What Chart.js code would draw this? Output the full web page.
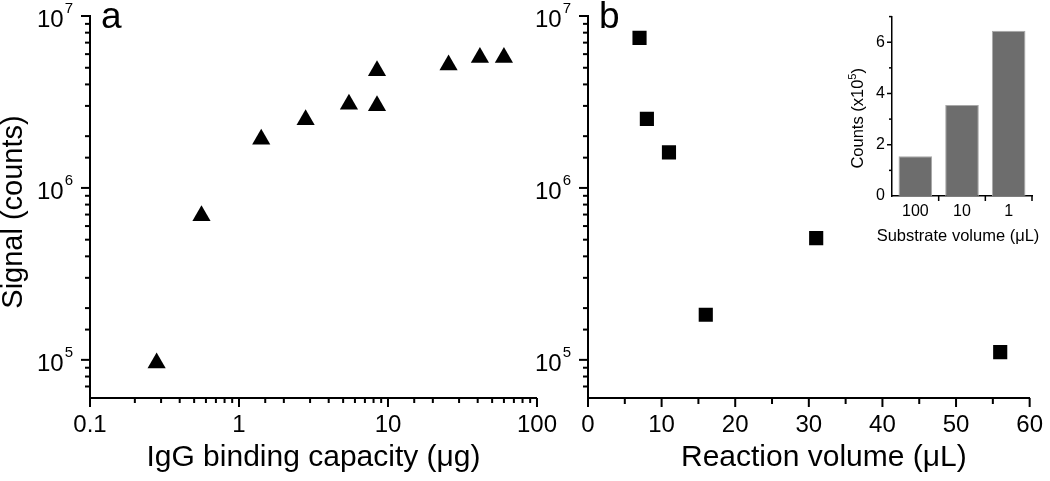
<!DOCTYPE html>
<html>
<head>
<meta charset="utf-8">
<script src="https://cdn.jsdelivr.net/npm/chart.js@4"></script>
<style>
  body { margin: 0; background: #fff; }
  #wrap { position: relative; width: 1050px; height: 481px; overflow: hidden; }
  #wrap canvas { position: absolute; top: 0; }
</style>
</head>
<body>
<div id="wrap">
  <canvas id="chartA" width="570" height="481" style="left:0"></canvas>
  <canvas id="chartB" width="556" height="481" style="left:500px"></canvas>
  <canvas id="chartC" width="210" height="250" style="left:840px"></canvas>
</div>
<script>
// panel a: signal vs IgG binding capacity
const capacity = [0.28, 0.56, 1.41, 2.8, 5.47, 8.44, 8.44, 25.5, 41.4, 60];
const signalA = [9.6e4, 6.9e5, 1.92e6, 2.49e6, 3.07e6, 3.01e6, 4.81e6, 5.19e6, 5.73e6, 5.73e6];
// panel b: signal vs reaction volume
const reactionVolume = [7, 8, 11, 16, 31, 56];
const signalB = [7.46e6, 2.52e6, 1.61e6, 1.83e5, 5.11e5, 1.11e5];
// inset: counts (x10^5) vs substrate volume
const substrateLabels = ['100', '10', '1'];
const substrateCounts = [1.55, 3.55, 6.45];

const FONT = '"Liberation Sans", Arial, sans-serif';
Chart.defaults.font.family = FONT;
Chart.defaults.color = '#000';

const isDecade = v => Math.abs(Math.log10(v) - Math.round(Math.log10(v))) < 1e-9;

// text made of parts, some of them superscript: [[text, size, raise], ...]
function drawParts(c, parts, x, y) {
  let w = 0;
  parts.forEach(p => { c.font = p[1] + 'px ' + FONT; w += c.measureText(p[0]).width; });
  let cx = x - w / 2;
  parts.forEach(p => {
    c.font = p[1] + 'px ' + FONT;
    c.fillText(p[0], cx, y - (p[2] || 0));
    cx += c.measureText(p[0]).width;
  });
}

// tick marks (major / minor), 10^n labels, axis titles, panel letter
function axisMarks(cfg) {
  return {
    id: 'axisMarks',
    afterDraw(chart) {
      const c = chart.ctx, area = chart.chartArea;
      const xs = chart.scales.x, ys = chart.scales.y;
      const lw = cfg.lineWidth;
      c.save();
      c.fillStyle = '#000';
      // x axis ticks (pointing down)
      if (cfg.x.boundaries) {
        const n = xs.ticks.length;
        for (let i = 1; i <= n; i++) {
          const px = xs.left + i * xs.width / n;
          c.fillRect(px - lw / 2, area.bottom, lw, cfg.x.len);
        }
      } else {
        xs.ticks.forEach(t => {
          const px = xs.getPixelForValue(t.value);
          const len = cfg.x.major(t.value) ? cfg.x.majorLen : cfg.x.minorLen;
          c.fillRect(px - lw / 2, area.bottom, lw, len);
        });
      }
      // y axis ticks (pointing left)
      ys.ticks.forEach(t => {
        if (t.value <= ys.min) return;
        const py = ys.getPixelForValue(t.value);
        const len = cfg.y.major(t.value) ? cfg.y.majorLen : cfg.y.minorLen;
        c.fillRect(area.left - len, py - lw / 2, len, lw);
      });

      c.textAlign = 'left';
      c.textBaseline = 'alphabetic';
      // 10^n labels
      if (cfg.decadeLabels) {
        ys.ticks.forEach(t => {
          if (!isDecade(t.value) || t.value < ys.min) return;
          const py = ys.getPixelForValue(t.value);
          const ex = String(Math.round(Math.log10(t.value)));
          c.font = '24px ' + FONT;
          const w10 = c.measureText('10').width;
          c.font = '15px ' + FONT;
          const we = c.measureText(ex).width;
          const x0 = area.left - 18 - we - w10;
          c.font = '24px ' + FONT;
          c.fillText('10', x0, py + 11);
          c.font = '15px ' + FONT;
          c.fillText(ex, x0 + w10 + 1, py - 3);
        });
      }

      // x axis title
      if (cfg.xTitle) {
        const t = cfg.xTitle;
        drawParts(c, t.parts, (area.left + area.right) / 2 + t.dx, area.bottom + t.dy);
      }
      // y axis title (rotated)
      if (cfg.yTitle) {
        const t = cfg.yTitle;
        c.save();
        c.translate(t.x, (area.top + area.bottom) / 2 + t.dy);
        c.rotate(-Math.PI / 2);
        drawParts(c, t.parts, 0, 0);
        c.restore();
      }

      // panel letter
      if (cfg.letter) {
        c.font = '37px ' + FONT;
        c.fillText(cfg.letter, area.left + 11, area.top + 12);
      }
      c.restore();
    }
  };
}

const axisBorder = { display: true, color: '#000', width: 2 };
const noGrid = { display: false, drawTicks: false, tickLength: 0 };

const logY = {
  type: 'logarithmic',
  min: 6e4,
  max: 1e7,
  border: axisBorder,
  grid: noGrid,
  ticks: { display: false },
};

// chart a
new Chart(document.getElementById('chartA'), {
  type: 'scatter',
  data: {
    datasets: [{
      data: capacity.map((x, i) => ({ x: x, y: signalA[i] })),
      pointStyle: 'triangle',
      pointRadius: 10.5,
      pointHoverRadius: 10.5,
      pointBorderWidth: 0,
      backgroundColor: '#000',
      borderColor: '#000',
    }]
  },
  options: {
    responsive: false,
    animation: false,
    events: [],
    layout: { padding: { left: 0, top: 16, right: 0, bottom: 0 } },
    plugins: { legend: { display: false }, tooltip: { enabled: false } },
    scales: {
      x: {
        type: 'logarithmic',
        min: 0.1,
        max: 100,
        border: axisBorder,
        grid: noGrid,
        ticks: {
          autoSkip: false,
          maxRotation: 0,
          padding: 13,
          font: { size: 24 },
          callback: v => isDecade(v) ? String(v) : '',
        },
        afterFit: s => { s.height = 83; },
      },
      y: Object.assign({}, logY, { afterFit: s => { s.width = 90; } }),
    }
  },
  plugins: [axisMarks({
    lineWidth: 2,
    x: { major: isDecade, majorLen: 9, minorLen: 5 },
    y: { major: isDecade, majorLen: 9, minorLen: 5 },
    decadeLabels: true,
    xTitle: { parts: [['IgG binding capacity (\u03bcg)', 30]], dx: 0, dy: 68 },
    yTitle: { parts: [['Signal (counts)', 29]], x: 22, dy: 5 },
    letter: 'a',
  })]
});

// chart b
new Chart(document.getElementById('chartB'), {
  type: 'scatter',
  data: {
    datasets: [{
      data: reactionVolume.map((x, i) => ({ x: x, y: signalB[i] })),
      pointStyle: 'rect',
      pointRadius: 10,
      pointHoverRadius: 10,
      pointBorderWidth: 0,
      backgroundColor: '#000',
      borderColor: '#000',
    }]
  },
  options: {
    responsive: false,
    animation: false,
    events: [],
    layout: { padding: { left: 0, top: 16, right: 0, bottom: 0 } },
    plugins: { legend: { display: false }, tooltip: { enabled: false } },
    scales: {
      x: {
        type: 'linear',
        min: 0,
        max: 60,
        border: axisBorder,
        grid: noGrid,
        ticks: {
          stepSize: 5,
          autoSkip: false,
          maxRotation: 0,
          padding: 13,
          font: { size: 24 },
          callback: v => v % 10 === 0 ? String(v) : '',
        },
        afterFit: s => { s.height = 83; },
      },
      y: Object.assign({}, logY, { afterFit: s => { s.width = 88; } }),
    }
  },
  plugins: [axisMarks({
    lineWidth: 2,
    x: { major: v => v % 10 === 0, majorLen: 9, minorLen: 6 },
    y: { major: isDecade, majorLen: 9, minorLen: 5 },
    decadeLabels: true,
    xTitle: { parts: [['Reaction volume (\u03bcL)', 30]], dx: 15, dy: 68 },
    letter: 'b',
  })]
});

// inset bar chart
new Chart(document.getElementById('chartC'), {
  type: 'bar',
  data: {
    labels: substrateLabels,
    datasets: [{
      data: substrateCounts,
      backgroundColor: '#6d6d6d',
      borderColor: '#a8a8a8',
      borderWidth: 1,
      barPercentage: 0.72,
      categoryPercentage: 1,
    }]
  },
  options: {
    responsive: false,
    animation: false,
    events: [],
    layout: { padding: { left: 0, top: 11, right: 18, bottom: 0 } },
    plugins: { legend: { display: false }, tooltip: { enabled: false } },
    scales: {
      x: {
        border: { display: true, color: '#000', width: 1.5 },
        grid: { display: false, drawTicks: false, tickLength: 0, offset: true },
        ticks: { padding: 6, font: { size: 16 }, maxRotation: 0 },
        afterFit: s => { s.height = 54; },
      },
      y: {
        min: 0,
        max: 7,
        border: { display: true, color: '#000', width: 1.5 },
        grid: noGrid,
        ticks: {
          stepSize: 1,
          padding: 7,
          font: { size: 16 },
          callback: v => v % 2 === 0 ? String(v) : '',
        },
        afterFit: s => { s.width = 52; },
      },
    }
  },
  plugins: [axisMarks({
    lineWidth: 1.5,
    x: { boundaries: true, len: 5 },
    y: { major: v => v % 2 === 0, majorLen: 5, minorLen: 3 },
    xTitle: { parts: [['Substrate volume (\u03bcL)', 16.5]], dx: -4, dy: 45 },
    yTitle: { parts: [['Counts (x10', 16.5], ['5', 11, 7], [')', 16.5]], x: 23, dy: 12 },
  })]
});
</script>
</body>
</html>
